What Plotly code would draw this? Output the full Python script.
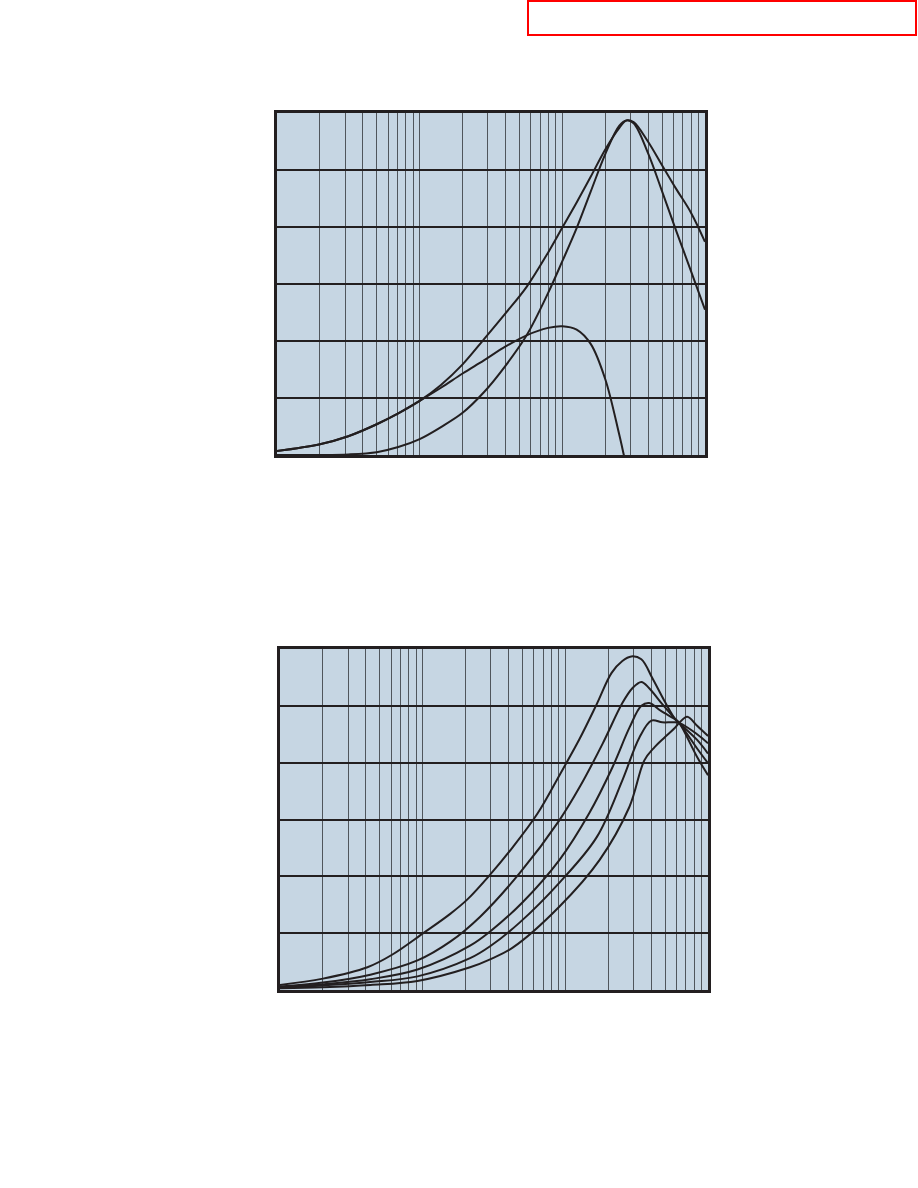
import plotly.graph_objects as go

# ---------------- data: top chart (shared frequency grid) ----------------
top_x = [1, 2, 3.16, 5, 7.08, 10, 14.1, 20, 28.2, 39.8, 56.2, 79.4, 100, 126, 158,
         200, 251, 282, 316, 398, 501, 631, 794, 1000]
top_a_y = [0.07, 0.19, 0.33, 0.54, 0.73, 0.95, 1.23, 1.59, 2.03, 2.48, 2.95, 3.55, 3.99, 4.43, 4.88,
           5.36, 5.74, 5.87, 5.84, 5.50, 5.08, 4.66, 4.26, 3.74]
top_b_y = [0.0, 0.0, 0.01, 0.05, 0.14, 0.28, 0.49, 0.74, 1.10, 1.56, 2.10, 2.84, 3.40, 3.98, 4.62,
           5.28, 5.78, 5.87, 5.82, 5.30, 4.62, 3.92, 3.24, 2.55]
top_c_x = [1, 2, 3.16, 5, 7.08, 10, 14.1, 20, 28.2, 39.8, 56.2, 79.4, 100, 126, 158, 200, 251, 282, 316]
top_c_y = [0.07, 0.19, 0.33, 0.54, 0.73, 0.95, 1.18, 1.43, 1.66, 1.90, 2.10, 2.23, 2.26, 2.20, 1.95, 1.33, 0.35, -0.2, -0.6]

# ---------------- data: bottom chart ----------------
bot_1_x = [1, 2, 4.1, 6.1, 10.1, 15.6, 20.5, 29.7, 43, 64, 91, 126, 166, 211, 251, 290, 341, 407, 494, 599, 628, 839, 1000]
bot_1_y = [0.09, 0.20, 0.40, 0.62, 1.00, 1.34, 1.59, 2.03, 2.52, 3.11, 3.78, 4.42, 5.03, 5.58, 5.79, 5.87, 5.82, 5.49, 5.09, 4.74, 4.70, 4.10, 3.78]

bot_2_x = [1, 2, 4.3, 9.2, 15.6, 25.3, 48, 91, 126, 183, 251, 295, 341, 387, 478, 599, 628, 839, 1000]
bot_2_y = [0.06, 0.13, 0.27, 0.52, 0.85, 1.29, 2.06, 2.99, 3.57, 4.34, 5.05, 5.31, 5.42, 5.31, 5.03, 4.75, 4.70, 4.25, 3.99]

bot_3_x = [1, 2, 4.3, 9.2, 21.5, 29.7, 50, 91, 147, 214, 282, 341, 387, 468, 599, 628, 839, 1000]
bot_3_y = [0.05, 0.10, 0.19, 0.36, 0.78, 1.03, 1.54, 2.29, 3.11, 3.92, 4.62, 5.00, 5.05, 4.91, 4.75, 4.70, 4.40, 4.16]

bot_4_x = [1, 2, 4.3, 9.2, 21.5, 29.7, 48, 91, 166, 251, 330, 401, 478, 562, 628, 839, 1000]
bot_4_y = [0.04, 0.08, 0.14, 0.24, 0.56, 0.77, 1.19, 1.89, 2.69, 3.69, 4.44, 4.74, 4.71, 4.71, 4.70, 4.50, 4.34]

bot_5_x = [1, 2, 4.3, 9.2, 21.5, 29.7, 43, 91, 174, 281, 358, 421, 494, 580, 628, 715, 839, 1000]
bot_5_y = [0.03, 0.05, 0.09, 0.16, 0.40, 0.54, 0.75, 1.47, 2.29, 3.22, 4.04, 4.27, 4.44, 4.60, 4.70, 4.81, 4.65, 4.47]

# grid positions (log decades with 2..9 subdivisions) and horizontal levels
grid_x = [m * 10 ** d for d in range(3) for m in range(1, 10)] + [1000]
grid_y = [0, 1, 2, 3, 4, 5, 6]

INK = "#231f20"
BG = "#c6d6e3"
W, H = 918, 1188

fig = go.Figure()

def add(x, y, xa, ya):
    fig.add_trace(go.Scatter(x=x, y=y, mode="lines", xaxis=xa, yaxis=ya,
                             line=dict(color=INK, width=2, shape="spline", smoothing=1.0),
                             hoverinfo="skip", showlegend=False))

for xs, ys in [(top_x, top_a_y), (top_x, top_b_y), (top_c_x, top_c_y)]:
    add(xs, ys, "x", "y")
for xs, ys in [(bot_1_x, bot_1_y), (bot_2_x, bot_2_y), (bot_3_x, bot_3_y),
               (bot_4_x, bot_4_y), (bot_5_x, bot_5_y)]:
    add(xs, ys, "x2", "y2")

def xaxis(domain, anchor):
    return dict(domain=domain, anchor=anchor, type="log", range=[0, 3],
                tickvals=grid_x, showticklabels=False, ticks="",
                showgrid=True, gridcolor="#50565c", gridwidth=1,
                showline=True, mirror=True, linecolor=INK, linewidth=2.5,
                zeroline=False, fixedrange=True)

def yaxis(domain, anchor):
    return dict(domain=domain, anchor=anchor, range=[0, 6],
                tickvals=grid_y, showticklabels=False, ticks="",
                showgrid=True, gridcolor=INK, gridwidth=1.5,
                showline=True, mirror=True, linecolor=INK, linewidth=2.5,
                zeroline=False, fixedrange=True)

fig.update_layout(
    width=W, height=H,
    margin=dict(l=0, r=0, t=0, b=0),
    paper_bgcolor="white", plot_bgcolor=BG,
    xaxis=xaxis([277 / W, 705 / W], "y"),
    yaxis=yaxis([(H - 455) / H, (H - 113) / H], "x"),
    xaxis2=xaxis([280 / W, 708 / W], "y2"),
    yaxis2=yaxis([(H - 990) / H, (H - 649) / H], "x2"),
    shapes=[dict(type="rect", xref="paper", yref="paper",
                 x0=528 / W, x1=916 / W, y0=(H - 35) / H, y1=(H - 1) / H,
                 line=dict(color="#ff0000", width=2), fillcolor="rgba(0,0,0,0)")],
)

fig.write_html(
    "out.html",
    config={"displayModeBar": False},
    post_script="document.body.style.margin='0';document.body.style.overflow='hidden';",
)
